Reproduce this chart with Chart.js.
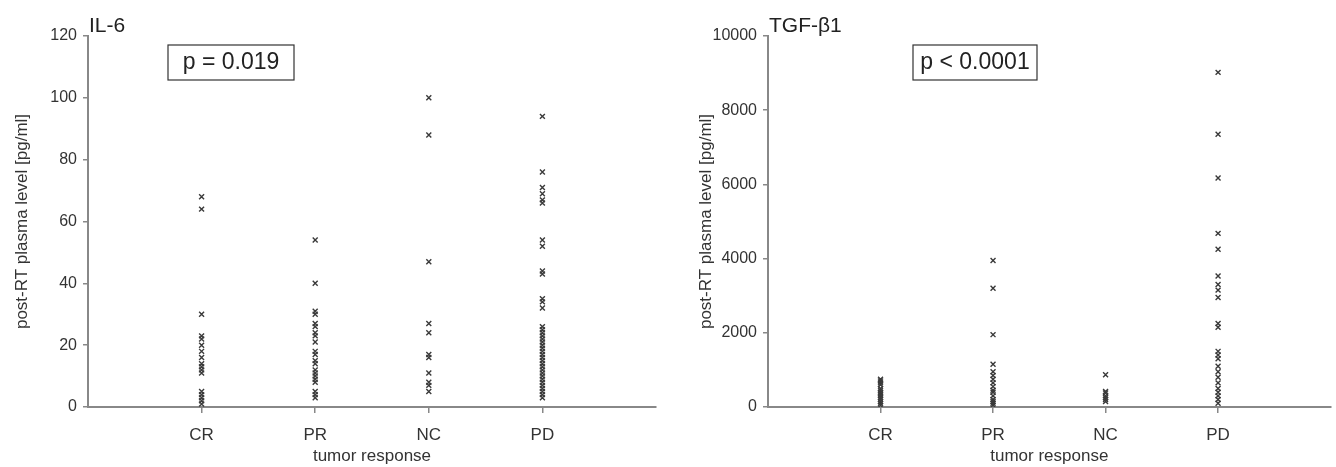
<!DOCTYPE html>
<html lang="en">
<head>
<meta charset="UTF-8">
<title>IL-6 / TGF-b1</title>
<script src="https://cdn.jsdelivr.net/npm/chart.js"></script>
<style>
  body { margin: 0; background: #fff; }
  .wrap { position: absolute; top: 0; width: 668px; height: 467px; }
  #left { left: 0; }
  #right { left: 668px; }
</style>
</head>
<body>
<div class="wrap" id="left"><canvas id="chartIL6"></canvas></div>
<div class="wrap" id="right"><canvas id="chartTGF"></canvas></div>

<script>
// tumor response groups
const categories = ['CR', 'PR', 'NC', 'PD'];

// IL-6 post-RT plasma level [pg/ml]
const il6CR = [68, 64, 30, 23, 22, 20, 18, 16, 14, 13, 12, 11, 5, 4, 3, 2, 1];
const il6PR = [54, 40, 31, 30, 27, 26, 24, 23, 21, 18, 17, 15, 14, 12, 11, 10, 9, 8, 5, 4, 3];
const il6NC = [100, 88, 47, 27, 24, 17, 16, 11, 8, 7, 5];
const il6PD = [94, 76, 71, 69, 67, 66, 54, 52, 44, 43, 35, 34, 32, 26, 25, 24, 23, 22, 21, 20,
               19, 18, 17, 16, 15, 14, 13, 12, 11, 10, 9, 8, 7, 6, 5, 4, 3];

// TGF-beta1 post-RT plasma level [pg/ml]
const tgfCR = [750, 700, 650, 600, 500, 450, 400, 350, 300, 250, 200, 150, 100, 50];
const tgfPR = [3950, 3200, 1950, 1150, 950, 850, 750, 650, 550, 450, 400, 300, 200, 150, 100, 50];
const tgfNC = [870, 420, 380, 300, 250, 200, 150];
const tgfPD = [9020, 7350, 6170, 4680, 4250, 3530, 3300, 3150, 2950, 2250, 2150, 1500, 1400, 1300,
               1100, 950, 800, 650, 500, 400, 300, 200, 100];

const il6Ticks = [0, 20, 40, 60, 80, 100, 120];
const tgfTicks = [0, 2000, 4000, 6000, 8000, 10000];

const FONT = '"Liberation Sans", Arial, sans-serif';

function toPoints(groups) {
  let pts = [];
  groups.forEach(function (vals, i) {
    vals.forEach(function (v) { pts.push({ x: i + 1, y: v }); });
  });
  return pts;
}

// draws panel title and the p-value box
const annot = {
  id: 'annot',
  afterDraw(chart, args, opts) {
    const ctx = chart.ctx;
    const a = chart.chartArea;
    ctx.save();
    ctx.fillStyle = '#222';
    ctx.font = '21px ' + FONT;
    ctx.textBaseline = 'alphabetic';
    ctx.textAlign = 'left';
    ctx.fillText(opts.title, a.left + 1, 32);

    ctx.strokeStyle = '#333';
    ctx.lineWidth = 1.2;
    ctx.strokeRect(a.left + opts.boxX, 45, opts.boxW, 35);
    ctx.font = '23px ' + FONT;
    ctx.textAlign = 'center';
    ctx.textBaseline = 'middle';
    ctx.fillText(opts.pText, a.left + opts.boxX + opts.boxW / 2, 63);
    ctx.restore();
  }
};

function makeChart(id, groups, ticks, yMax, axisW, titlePad, padRight, title, pText, boxX, boxW) {
  const config = {
    type: 'scatter',
    data: {
      datasets: [{
        data: toPoints(groups),
        pointStyle: 'crossRot',
        pointRadius: 3.5,
        borderColor: '#3a3a3a',
        backgroundColor: '#3a3a3a',
        borderWidth: 1.4
      }]
    },
    options: {
      responsive: true,
      maintainAspectRatio: false,
      animation: false,
      layout: { padding: { top: 36, right: padRight, left: 0, bottom: 0 } },
      plugins: {
        legend: { display: false },
        tooltip: { enabled: false },
        annot: { title: title, pText: pText, boxX: boxX, boxW: boxW }
      },
      scales: {
        x: {
          type: 'linear',
          min: 0,
          max: 5,
          afterBuildTicks: function (s) {
            s.ticks = categories.map(function (c, i) { return { value: i + 1 }; });
          },
          afterFit: function (s) { s.height = 60; },
          ticks: {
            callback: function (v) { return categories[v - 1]; },
            color: '#333',
            padding: 12,
            font: { size: 17, family: FONT }
          },
          grid: { drawOnChartArea: false, tickLength: 6, color: '#888', lineWidth: 1.5 },
          border: { color: '#888', width: 2 },
          title: {
            display: true,
            text: 'tumor response',
            color: '#333',
            padding: { top: 0, bottom: 0 },
            font: { size: 17, family: FONT }
          }
        },
        y: {
          min: 0,
          max: yMax,
          afterBuildTicks: function (s) {
            s.ticks = ticks.map(function (t) { return { value: t }; });
          },
          afterFit: function (s) { s.width = axisW; },
          ticks: {
            callback: function (v) { return String(v); },
            color: '#333',
            padding: 6,
            font: { size: 16, family: FONT }
          },
          grid: { drawOnChartArea: false, tickLength: 5, color: '#888', lineWidth: 1.5 },
          border: { color: '#888', width: 2 },
          title: {
            display: true,
            text: 'post-RT plasma level [pg/ml]',
            color: '#333',
            padding: { top: titlePad, bottom: 0 },
            font: { size: 17, family: FONT }
          }
        }
      }
    },
    plugins: [annot]
  };
  return new Chart(document.getElementById(id), config);
}

makeChart('chartIL6', [il6CR, il6PR, il6NC, il6PD], il6Ticks, 120, 88, 12, 12,
  'IL-6', 'p = 0.019', 80, 126);
makeChart('chartTGF', [tgfCR, tgfPR, tgfNC, tgfPD], tgfTicks, 10000, 100, 28, 0,
  'TGF-\u03B21', 'p < 0.0001', 145, 124);
</script>
</body>
</html>
